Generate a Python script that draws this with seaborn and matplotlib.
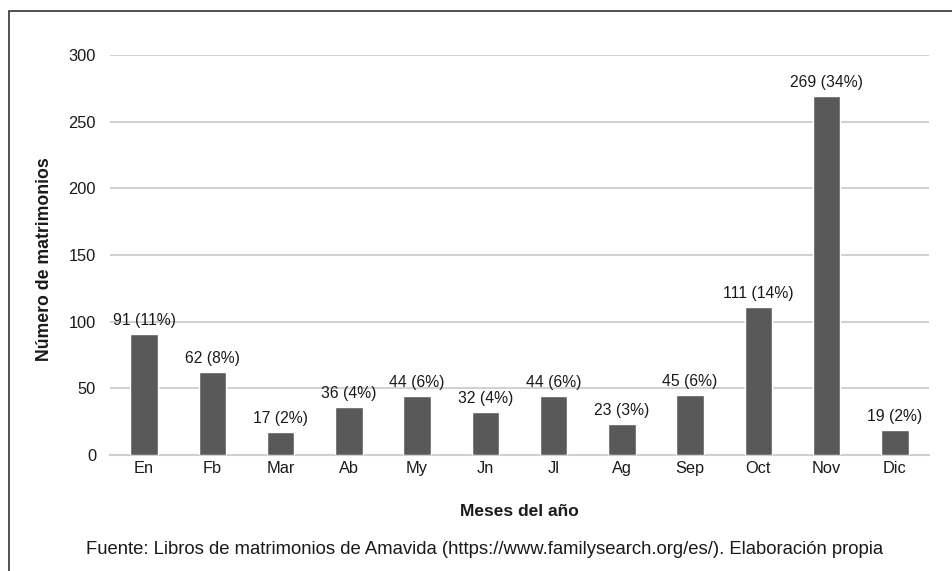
import matplotlib
matplotlib.use("Agg")
import matplotlib.pyplot as plt
import seaborn as sns
import pandas as pd
from matplotlib.patches import Rectangle

meses = ["En", "Fb", "Mar", "Ab", "My", "Jn", "Jl", "Ag", "Sep", "Oct", "Nov", "Dic"]
matrimonios = [91, 62, 17, 36, 44, 32, 44, 23, 45, 111, 269, 19]
porcentajes = [11, 8, 2, 4, 6, 4, 6, 3, 6, 14, 34, 2]
yticks = [0, 50, 100, 150, 200, 250, 300]

sns.set_theme(style="white")
plt.rcParams["font.family"] = ["Liberation Sans", "DejaVu Sans"]

df = pd.DataFrame({"mes": meses, "n": matrimonios})

W, H = 953, 571
fig = plt.figure(figsize=(W / 100, H / 100), dpi=100)
ax = fig.add_axes([110 / W, 1 - 455 / H, (929 - 110) / W, 400 / H])

sns.barplot(data=df, x="mes", y="n", color="#595959", width=0.4,
            saturation=1, ax=ax, zorder=3)

ax.set_ylim(0, 300)
ax.set_yticks(yticks)
ax.set_xlim(-0.5, len(meses) - 0.5)
ax.yaxis.grid(True, color="#c8c8c8", linewidth=1.2, zorder=0)
ax.set_axisbelow(True)
for s in ["top", "right", "left"]:
    ax.spines[s].set_visible(False)
ax.spines["bottom"].set_color("#d0d0d0")
ax.spines["bottom"].set_linewidth(1.5)
ax.tick_params(axis="both", length=0, labelsize=11.8, colors="#1a1a1a")
ax.tick_params(axis="y", pad=10)
ax.tick_params(axis="x", pad=4)

for i, (v, p) in enumerate(zip(matrimonios, porcentajes)):
    ax.text(i, v + 4.5, f"{v} ({p}%)", ha="center", va="bottom",
            fontsize=11.3, color="#1a1a1a", zorder=4)

ax.set_xlabel("")
ax.set_ylabel("")
fig.text(45 / W, 1 - 259 / H, "Número de matrimonios", rotation=90,
         ha="center", va="center", fontsize=12.7, fontweight="bold",
         color="#1a1a1a")
fig.text(519 / W, 1 - 511 / H, "Meses del año", ha="center", va="center",
         fontsize=12.5, fontweight="bold", color="#1a1a1a")
fig.text(485 / W, 1 - 549 / H,
         "Fuente: Libros de matrimonios de Amavida (https://www.familysearch.org/es/). Elaboración propia",
         ha="center", va="center", fontsize=13.3, color="#1a1a1a")

# outer frame
fig.patches.append(Rectangle((9.5 / W, -0.1), 1.2, 1 - 10.5 / H + 0.1,
                             transform=fig.transFigure, fill=False,
                             edgecolor="#333333", linewidth=1.2))

fig.savefig("out.png", dpi=100)
